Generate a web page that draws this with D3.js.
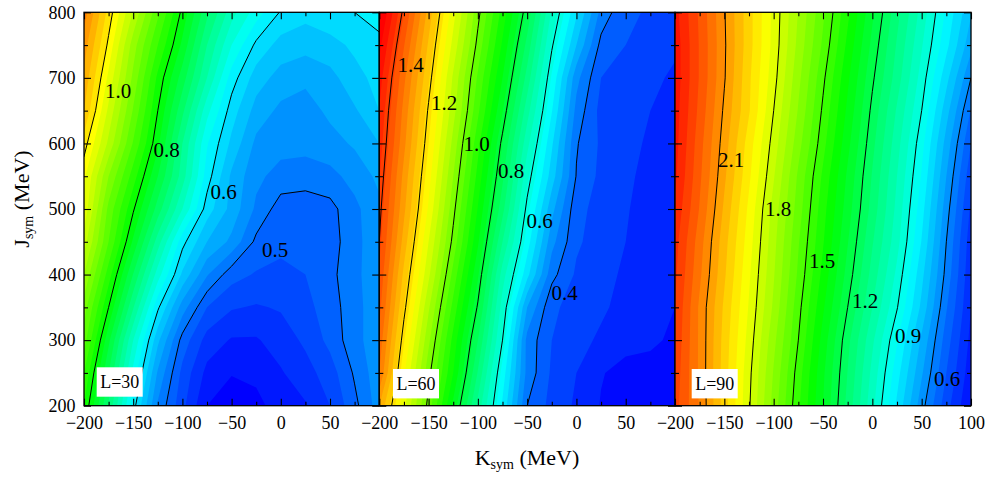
<!DOCTYPE html>
<html>
<head>
<meta charset="utf-8">
<script src="https://cdn.jsdelivr.net/npm/d3@7/dist/d3.min.js"></script>
<style>
html,body{margin:0;padding:0;background:#fff;}
svg{display:block;}
text{font-family:"Liberation Serif","Times New Roman",serif;fill:#000;}
</style>
</head>
<body>
<div id="chart"></div>
<script>
// Grid axes of the reference surface (MeV)
const kSym = [-200,-175,-150,-125,-100,-75,-50,-25,0,25,50,75,100];
const jSym = [200,250,300,350,400,450,500,550,600,650,700,750,800];
const xMajor = [-200,-150,-100,-50,0,50];
const xMajorLast = [-200,-150,-100,-50,0,50,100];
const xMinor = [-175,-125,-75,-25,25,75];
const yMajor = [200,300,400,500,600,700,800];
const yMinor = [250,350,450,550,650,750];

// Surface values, one row per jSym value, one column per kSym value
const surfaceL30 = [
[.82,.717,.609,.517,.466,.42,.41,.415,.428,.438,.46,.494,.53],
[.84,.74,.634,.537,.474,.434,.421,.424,.438,.452,.47,.503,.533],
[.87,.765,.66,.565,.492,.452,.438,.438,.449,.464,.486,.513,.533],
[.89,.80,.702,.604,.53,.48,.462,.458,.462,.474,.49,.513,.533],
[.92,.83,.739,.65,.576,.522,.488,.478,.475,.48,.494,.515,.533],
[.95,.86,.776,.69,.607,.56,.535,.495,.485,.485,.49,.514,.533],
[.975,.874,.803,.731,.66,.59,.553,.516,.49,.49,.493,.515,.535],
[.985,.90,.83,.76,.69,.61,.556,.525,.512,.508,.514,.527,.545],
[1.01,.935,.858,.785,.70,.622,.575,.535,.528,.528,.532,.543,.56],
[1.04,.955,.878,.80,.725,.647,.59,.552,.535,.53,.545,.557,.58],
[1.055,.975,.895,.815,.75,.68,.61,.57,.552,.545,.552,.575,.585],
[1.07,.995,.91,.84,.775,.70,.64,.595,.572,.567,.575,.583,.592],
[1.09,1.012,.938,.865,.794,.725,.668,.63,.598,.587,.59,.60,.612]
];
const surfaceL60 = [
[1.27,1.13,.988,.842,.69,.545,.40,.36,.335,.308,.302,.30,.30],
[1.33,1.155,1.01,.88,.727,.567,.42,.365,.34,.312,.30,.30,.302],
[1.35,1.183,1.037,.90,.76,.60,.42,.37,.35,.335,.32,.315,.305],
[1.37,1.21,1.065,.93,.795,.625,.46,.375,.36,.345,.33,.32,.31],
[1.385,1.232,1.097,.96,.825,.655,.53,.41,.365,.35,.335,.322,.315],
[1.40,1.257,1.12,.99,.855,.70,.565,.44,.375,.355,.34,.325,.318],
[1.41,1.277,1.145,1.01,.878,.74,.59,.47,.38,.358,.342,.33,.32],
[1.423,1.29,1.163,1.03,.90,.767,.618,.505,.398,.362,.345,.332,.322],
[1.436,1.308,1.18,1.05,.92,.79,.65,.525,.403,.365,.35,.335,.325],
[1.448,1.32,1.195,1.072,.947,.822,.683,.552,.42,.36,.355,.34,.33],
[1.465,1.337,1.215,1.085,.965,.85,.718,.575,.44,.37,.36,.347,.335],
[1.49,1.362,1.235,1.11,.99,.875,.75,.605,.49,.39,.37,.355,.345],
[1.52,1.39,1.258,1.132,1.01,.898,.782,.635,.525,.42,.375,.367,.355]
];
const surfaceL90 = [
[2.27,2.145,1.975,1.807,1.63,1.46,1.30,1.133,.965,.79,.62,.47,.35],
[2.28,2.14,1.975,1.815,1.645,1.475,1.31,1.148,.985,.82,.657,.50,.37],
[2.29,2.14,1.98,1.83,1.665,1.50,1.33,1.165,1.01,.855,.69,.525,.385],
[2.30,2.14,1.99,1.845,1.69,1.518,1.358,1.20,1.05,.904,.737,.555,.40],
[2.31,2.16,2.008,1.858,1.705,1.54,1.384,1.23,1.08,.937,.765,.583,.41],
[2.32,2.173,2.02,1.873,1.717,1.555,1.405,1.253,1.105,.968,.797,.60,.42],
[2.34,2.196,2.04,1.888,1.73,1.575,1.42,1.274,1.13,.985,.82,.623,.44],
[2.36,2.21,2.06,1.91,1.755,1.59,1.44,1.29,1.145,1.00,.845,.65,.465],
[2.37,2.22,2.075,1.925,1.778,1.62,1.468,1.315,1.165,1.02,.868,.68,.50],
[2.375,2.235,2.09,1.955,1.80,1.645,1.49,1.338,1.186,1.043,.90,.72,.545],
[2.38,2.245,2.105,1.96,1.82,1.665,1.512,1.36,1.21,1.075,.928,.767,.60],
[2.38,2.245,2.108,1.97,1.832,1.685,1.54,1.387,1.235,1.094,.955,.815,.665],
[2.37,2.24,2.104,1.97,1.835,1.697,1.56,1.412,1.26,1.117,.98,.84,.705]
];

// Contour levels and labels
const linesL30 = [0.5,0.6,0.8,1.0];
const linesL60 = [0.4,0.6,0.8,1.0,1.2,1.4];
const linesL90 = [0.6,0.9,1.2,1.5,1.8,2.1];
const legendNames = ["L=30","L=60","L=90"];
const labelsL30 = ["1.0","0.8","0.6","0.5"];
const labelsL60 = ["1.4","1.2","1.0","0.8","0.6","0.4"];
const labelsL90 = ["2.1","1.8","1.5","1.2","0.9","0.6"];
const rainbow = ["#0000ff","#00ffff","#00ff00","#ffff00","#ff0000"];

const W = 987, H = 477;
const yTop = 12.3, yBottom = 405.7;
const y = d3.scaleLinear().domain([200,800]).range([yBottom,yTop]);

const panels = [
 {left:84, right:379.2, data:surfaceL30, lines:linesL30, labels:labelsL30,
  labelPos:[[118,91],[166.5,150],[223.6,192],[275,250]],
  box:[96.7,367.3], stops:[.42,.63,.81,1.0,1.2], first:.42, step:.02, count:40, ticks:xMajor, name:legendNames[0]},
 {left:379.3, right:675, data:surfaceL60, lines:linesL60, labels:labelsL60,
  labelPos:[[410.7,65],[444,102.5],[476.7,144],[511,171],[539.5,221],[564.5,293]],
  box:[393,369], stops:[.30,.575,.89,1.17,1.5], first:.31, step:.03, count:44, ticks:xMajor, name:legendNames[1]},
 {left:675, right:971, data:surfaceL90, lines:linesL90, labels:labelsL90,
  labelPos:[[731,160],[778,209],[822,261],[865,301],[908,336],[947,379]],
  box:[691.7,369], stops:[.35,.87,1.39,1.91,2.43], first:.35, step:.05, count:44, ticks:xMajorLast, name:legendNames[2]}
];

const svg = d3.select("#chart").append("svg").attr("width",W).attr("height",H);
const nx = kSym.length, ny = jSym.length;
const dk = kSym[1]-kSym[0], dj = jSym[1]-jSym[0];

panels.forEach((p,i)=>{
  const x = d3.scaleLinear().domain([kSym[0],kSym[nx-1]]).range([p.left,p.right]);
  const color = d3.scaleLinear().domain(p.stops).range(rainbow).clamp(true);
  const values = p.data.flat();
  const thresholds = d3.range(p.count).map(k=>+(p.first+k*p.step).toFixed(3));
  const gen = d3.contours().size([nx,ny]);
  const path = d3.geoPath(d3.geoTransform({
    point(cx,cy){ this.stream.point(x(kSym[0]+(cx-.5)*dk), y(jSym[0]+(cy-.5)*dj)); }
  }));

  const clipId = "clip"+i;
  svg.append("clipPath").attr("id",clipId).append("rect")
    .attr("x",p.left).attr("y",yTop).attr("width",p.right-p.left).attr("height",yBottom-yTop);

  const g = svg.append("g").attr("clip-path",`url(#${clipId})`);
  g.append("rect").attr("x",p.left).attr("y",yTop).attr("width",p.right-p.left).attr("height",yBottom-yTop)
    .attr("fill",color(p.first));
  g.selectAll("path.band").data(thresholds.map(t=>gen.contour(values,t))).join("path")
    .attr("class","band").attr("d",path)
    .attr("fill",d=>color(d.value+p.step)).attr("stroke","none");
  g.selectAll("path.iso").data(p.lines.map(t=>gen.contour(values,t))).join("path")
    .attr("class","iso").attr("d",path)
    .attr("fill","none").attr("stroke","#000").attr("stroke-width",1);

  // legend box
  svg.append("rect").attr("x",p.box[0]).attr("y",p.box[1]).attr("width",46).attr("height",29.4).attr("fill","#fff");
  svg.append("text").attr("x",p.box[0]+23).attr("y",p.box[1]+20.5).attr("text-anchor","middle")
    .attr("font-size",18).attr("textLength",39).attr("lengthAdjust","spacingAndGlyphs").text(p.name);

  // contour labels
  svg.append("g").selectAll("text").data(p.labels).join("text")
    .attr("x",(d,k)=>p.labelPos[k][0]).attr("y",(d,k)=>p.labelPos[k][1]+7.2)
    .attr("text-anchor","middle").attr("font-size",21).text(d=>d);

  // ticks on all four sides
  const style = sel => { sel.select(".domain").remove();
    sel.selectAll("line").attr("stroke","#000").attr("stroke-width",1.1); 
    sel.selectAll("text").attr("font-family",'"Liberation Serif",serif').attr("font-size",18).attr("fill","#000"); };
  const noLabel = ()=>"";
  svg.append("g").attr("transform",`translate(0,${yBottom})`)
    .call(d3.axisBottom(x).tickValues(p.ticks).tickSize(-7).tickPadding(10.5)).call(style);
  svg.append("g").attr("transform",`translate(0,${yBottom})`)
    .call(d3.axisBottom(x).tickValues(xMinor).tickSize(-4).tickFormat(noLabel)).call(style);
  svg.append("g").attr("transform",`translate(0,${yTop})`)
    .call(d3.axisTop(x).tickValues(xMajorLast).tickSize(-7).tickFormat(noLabel)).call(style);
  svg.append("g").attr("transform",`translate(0,${yTop})`)
    .call(d3.axisTop(x).tickValues(xMinor).tickSize(-4).tickFormat(noLabel)).call(style);
  const left = d3.axisLeft(y).tickValues(yMajor).tickSize(-7).tickPadding(8.5);
  if(i>0) left.tickFormat(noLabel);
  svg.append("g").attr("transform",`translate(${p.left},0)`).call(left).call(style);
  svg.append("g").attr("transform",`translate(${p.left},0)`)
    .call(d3.axisLeft(y).tickValues(yMinor).tickSize(-4).tickFormat(noLabel)).call(style);
  svg.append("g").attr("transform",`translate(${p.right},0)`)
    .call(d3.axisRight(y).tickValues(yMajor).tickSize(-7).tickFormat(noLabel)).call(style);
  svg.append("g").attr("transform",`translate(${p.right},0)`)
    .call(d3.axisRight(y).tickValues(yMinor).tickSize(-4).tickFormat(noLabel)).call(style);

  // frame
  svg.append("rect").attr("x",p.left).attr("y",yTop).attr("width",p.right-p.left).attr("height",yBottom-yTop)
    .attr("fill","none").attr("stroke","#000").attr("stroke-width",1.3);
});

// axis titles
const xt = svg.append("text").attr("x",527).attr("y",465).attr("text-anchor","middle").attr("font-size",22);
xt.append("tspan").text("K");
xt.append("tspan").attr("font-size",14).attr("dy",4).text("sym");
xt.append("tspan").attr("dy",-4).text(" (MeV)");
const yt = svg.append("text").attr("transform","translate(28.5,199) rotate(-90)").attr("text-anchor","middle").attr("font-size",22);
yt.append("tspan").text("J");
yt.append("tspan").attr("font-size",14).attr("dy",4).text("sym");
yt.append("tspan").attr("dy",-4).text(" (MeV)");
</script>
</body>
</html>
